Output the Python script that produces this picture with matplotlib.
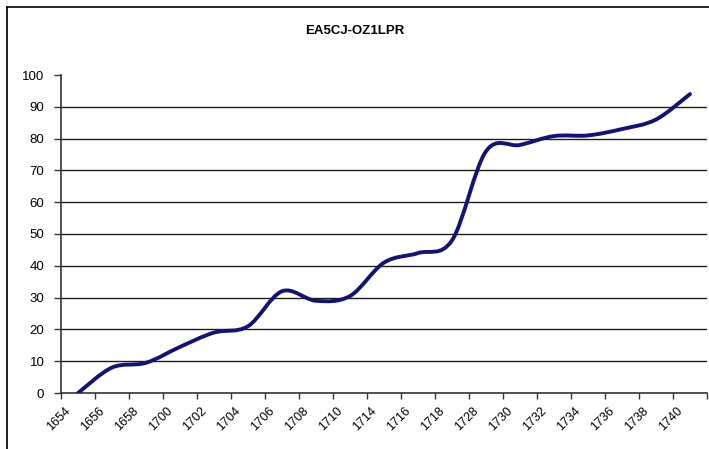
import matplotlib
matplotlib.use("Agg")
import matplotlib.pyplot as plt
import matplotlib.transforms as mtransforms
from matplotlib.path import Path
from matplotlib.patches import PathPatch
from matplotlib.lines import Line2D
import numpy as np

# data
times = ["1654", "1656", "1658", "1700", "1702", "1704", "1706", "1708", "1710",
         "1714", "1716", "1718", "1728", "1730", "1732", "1734", "1736", "1738", "1740"]
values = [0, 8, 9.5, 14.5, 19, 21, 32, 29, 30.5,
          41, 44, 48, 76, 78, 80.8, 81, 83, 86, 94]
yticks = [0, 10, 20, 30, 40, 50, 60, 70, 80, 90, 100]

plt.rcParams["font.family"] = ["Liberation Sans", "DejaVu Sans"]

W, H = 709, 449
fig = plt.figure(figsize=(W / 100, H / 100), dpi=100)
fig.patch.set_facecolor("white")

# outer chart border (only top and left show in the crop)
fig.add_artist(Line2D([7 / W, 1.0], [1 - 7 / H, 1 - 7 / H], color="black", lw=1.2))
fig.add_artist(Line2D([7 / W, 7 / W], [1 - 7 / H, 0.0], color="black", lw=1.2))

ax = fig.add_axes([61 / W, (H - 393) / H, (707 - 61) / W, (393 - 75) / H])

# smoothed line like excel: cubic bezier through every point
x = np.arange(len(values))
y = np.array(values, dtype=float)
px = np.concatenate([[x[0]], x, [x[-1]]])
py = np.concatenate([[y[0]], y, [y[-1]]])
verts = [(x[0], y[0])]
codes = [Path.MOVETO]
for i in range(len(x) - 1):
    j = i + 1
    c1 = (px[j] + (px[j + 1] - px[j - 1]) / 6, py[j] + (py[j + 1] - py[j - 1]) / 6)
    c2 = (px[j + 1] - (px[j + 2] - px[j]) / 6, py[j + 1] - (py[j + 2] - py[j]) / 6)
    verts += [c1, c2, (x[i + 1], y[i + 1])]
    codes += [Path.CURVE4] * 3
ax.add_patch(PathPatch(Path(verts, codes), fill=False, edgecolor="#14146e",
                       lw=2.8, capstyle="round", joinstyle="round", zorder=3))

ax.set_xlim(-0.5, len(values) - 0.5)
ax.set_ylim(0, 100)

for v in yticks[1:-1]:
    ax.axhline(v, color="#1e1e1e", lw=1.0, zorder=1)

ax.set_yticks(yticks)
ax.set_yticklabels([str(v) for v in yticks], fontsize=9.5)
ax.tick_params(axis="y", direction="out", length=5, width=1, color="#333333", pad=7)

# ticks on category borders, labels at the centres
ax.set_xticks(np.arange(-0.5, len(values), 1.0))
ax.set_xticklabels([])
ax.tick_params(axis="x", which="major", direction="out", length=4, width=1, color="#333333")
ax.set_xticks(x, minor=True)
ax.set_xticklabels(times, minor=True, fontsize=9, rotation=45, ha="right", va="top",
                   rotation_mode="anchor")
ax.tick_params(axis="x", which="minor", length=0, pad=8)
shift = mtransforms.ScaledTranslation(-0.14, -0.01, fig.dpi_scale_trans)
for lab in ax.get_xticklabels(minor=True):
    lab.set_transform(lab.get_transform() + shift)

for s in ["top", "right"]:
    ax.spines[s].set_visible(False)
for s in ["left", "bottom"]:
    ax.spines[s].set_color("#333333")
    ax.spines[s].set_linewidth(1.2)

fig.text(355 / W, 1 - 31 / H, "EA5CJ-OZ1LPR", ha="center", va="center",
         fontsize=9.5, fontweight="bold")

fig.savefig("out.png", dpi=100)
